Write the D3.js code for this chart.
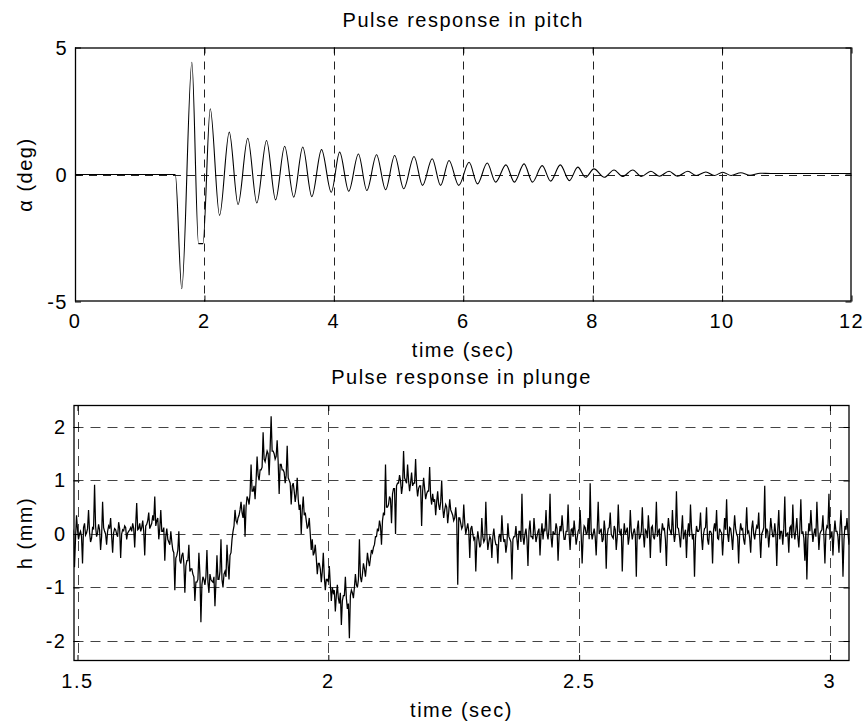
<!DOCTYPE html>
<html>
<head>
<meta charset="utf-8">
<script src="https://cdn.jsdelivr.net/npm/d3@7"></script>
<style>
  html, body { margin: 0; padding: 0; background: #fff; }
  svg { display: block; }
  text { font-family: "Liberation Sans", Arial, Helvetica, sans-serif; font-size: 20px; letter-spacing: 1.5px; fill: #000; }
</style>
</head>
<body>
<svg id="chart" width="867" height="725"></svg>
<script>
// ---------------- DATA ----------------
// Pitch response (peaks / troughs)
const pitchTime = [0, 1.55, 1.65, 1.806, 1.909, 1.977, 2.09, 2.234, 2.384, 2.52, 2.67, 2.81, 2.96, 3.10, 3.24, 3.38, 3.52, 3.66, 3.81, 3.96, 4.09, 4.23, 4.38, 4.51, 4.66, 4.80, 4.94, 5.08, 5.24, 5.37, 5.52, 5.65, 5.78, 5.93, 6.09, 6.22, 6.37, 6.50, 6.66, 6.79, 6.94, 7.07, 7.22, 7.35, 7.50, 7.64, 7.77, 7.89, 8.02, 8.18, 8.33, 8.46, 8.62, 8.75, 8.90, 9.03, 9.18, 9.31, 9.47, 9.60, 9.75, 9.88, 10.01, 10.14, 10.29, 10.43, 10.59, 10.75, 12];
const pitchDeg  = [0, 0, -4.5, 4.42, -2.72, -2.72, 2.59, -1.61, 1.67, -1.18, 1.43, -1.12, 1.34, -1.0, 1.11, -0.89, 1.08, -0.87, 0.98, -0.70, 0.88, -0.66, 0.81, -0.63, 0.78, -0.60, 0.75, -0.56, 0.71, -0.43, 0.62, -0.43, 0.55, -0.43, 0.48, -0.37, 0.45, -0.30, 0.38, -0.30, 0.42, -0.30, 0.35, -0.26, 0.38, -0.24, 0.29, -0.11, 0.22, -0.11, 0.18, -0.08, 0.18, -0.08, 0.13, -0.07, 0.13, -0.07, 0.13, -0.04, 0.10, -0.04, 0.09, -0.04, 0.07, -0.03, 0.05, 0.04, 0.04];

// Plunge response, sampled from t = 1.49 s every 0.002 s (mm); one row = 0.04 s
const plungeStart = 1.49;
const plungeStep = 0.002;
const plungeMm = [
  0.10, 0.05, -0.62, -0.10, 0.35, 0.08, -0.10, 0.00, 0.05, -0.05, -0.55, 0.12, 0.20, -0.02, 0.02, 0.10, 0.45, 0.03, -0.15, -0.08,
  0.12, 0.10, 0.92, 0.15, -0.05, 0.02, 0.18, 0.08, -0.30, -0.05, 0.60, 0.12, 0.05, 0.00, -0.20, 0.05, 0.15, 0.10, 0.30, -0.03,
  -0.35, 0.02, 0.10, 0.08, 0.00, -0.05, 0.22, 0.10, -0.45, 0.00, 0.08, 0.06, 0.15, 0.12, -0.10, 0.02, 0.05, 0.08, 0.12, 0.05,
  0.20, 0.10, -0.25, 0.18, 0.58, 0.08, 0.10, 0.20, 0.05, 0.12, 0.25, 0.05, -0.40, 0.15, 0.18, 0.25, 0.40, 0.10, 0.15, 0.20,
  0.35, 0.25, 0.70, 0.15, 0.25, 0.30, -0.10, 0.10, 0.45, 0.05, 0.05, 0.12, -0.50, -0.05, 0.10, -0.10, -0.15, -0.20, 0.05, -0.15,
  -0.30, -0.35, -1.05, -0.45, -0.40, -0.30, 0.05, -0.50, -0.55, -0.40, -0.35, -0.55, -1.10, -0.60, -0.50, -0.50, -0.20, -0.70, -0.65, -0.65,
  -0.75, -0.80, -1.25, -0.90, -0.90, -0.85, -0.35, -0.75, -1.65, -0.95, -0.80, -0.85, -0.95, -0.80, -0.30, -0.90, -1.10, -0.75, -0.85, -0.88,
  -0.90, -0.80, -1.35, -0.90, -0.40, -0.85, -0.85, -0.70, -0.10, -0.85, -1.00, -0.75, -0.70, -0.80, -0.20, -0.55, -0.85, -0.40, -0.35, -0.10,
  0.05, 0.15, 0.45, 0.25, 0.20, 0.30, 0.35, 0.45, 0.60, 0.40, 0.30, 0.55, -0.05, 0.50, 0.70, 0.65, 0.55, 0.75, 1.30, 0.80,
  0.80, 0.90, 0.65, 1.00, 1.45, 1.10, 1.00, 1.20, 1.20, 1.25, 1.90, 1.40, 1.35, 1.45, 1.55, 1.50, 1.10, 1.60, 2.20, 1.55,
  1.55, 1.50, 1.40, 1.45, 1.75, 1.35, 0.75, 1.30, 1.30, 1.20, 1.20, 1.15, 0.95, 1.10, 1.65, 1.05, 1.00, 0.95, 0.55, 0.90,
  0.95, 0.80, 0.60, 0.75, 1.05, 0.65, 0.45, 0.55, 0.00, 0.45, 0.70, 0.35, 0.40, 0.25, 0.10, 0.15, 0.30, 0.00, -0.30, -0.10,
  -0.40, -0.35, -0.20, -0.45, -0.75, -0.55, -0.55, -0.65, -0.90, -0.70, -0.35, -0.80, -1.05, -0.85, -0.85, -0.90, -0.60, -0.95, -1.25, -1.00,
  -1.10, -1.05, -1.45, -1.15, -0.95, -1.20, -1.30, -1.10, -1.70, -1.25, -1.15, -1.15, -0.80, -1.20, -1.40, -1.30, -1.95, -1.15, -1.05, -1.10,
  -1.20, -1.00, -0.75, -0.95, -1.00, -0.85, -0.10, -0.80, -0.90, -0.75, -0.55, -0.65, -0.80, -0.60, -0.35, -0.50, -0.60, -0.45, -0.30, -0.35,
  -0.25, -0.20, -0.05, -0.05, 0.10, 0.05, 0.25, 0.15, -0.20, 0.25, 0.40, 0.35, 1.30, 0.50, 0.50, 0.55, 0.70, 0.65, 0.20, 0.75,
  0.85, 0.85, 0.00, 0.90, 0.95, 0.95, 1.10, 1.00, 0.75, 0.90, 1.55, 1.05, 1.00, 0.95, 1.30, 1.00, 0.80, 0.95, 1.15, 0.90,
  0.95, 0.95, 1.40, 0.90, 0.70, 0.85, 0.90, 0.90, 0.15, 0.80, 1.05, 0.85, 0.65, 0.75, 0.80, 0.80, 1.25, 0.70, 0.55, 0.75,
  0.60, 0.65, 0.35, 0.60, 0.80, 0.55, 0.45, 0.60, 1.00, 0.50, 0.30, 0.45, 0.55, 0.50, 0.20, 0.40, 0.65, 0.45, 0.40, 0.35,
  0.25, 0.30, 0.50, 0.25, -0.95, 0.30, 0.30, 0.20, 0.10, 0.15, 0.55, 0.20, 0.00, 0.10, 0.20, 0.05, -0.45, 0.10, 0.15, 0.00,
  -0.10, -0.05, -0.70, -0.15, 0.05, -0.10, -0.25, -0.20, 0.30, -0.05, -0.15, -0.10, 0.60, 0.00, -0.30, -0.15, -0.05, -0.10, -0.45, -0.05,
  0.10, -0.10, -0.20, -0.20, -0.55, -0.05, 0.00, -0.15, 0.35, 0.00, -0.15, -0.10, -0.35, -0.20, 0.20, -0.05, -0.10, -0.15, -0.85, -0.10,
  -0.05, -0.05, 0.15, -0.10, -0.30, 0.05, 0.05, -0.15, 0.75, -0.05, -0.20, 0.00, 0.10, -0.10, -0.60, 0.05, 0.25, -0.05, -0.05, -0.10,
  0.30, 0.05, -0.15, -0.05, 0.05, 0.10, -0.40, 0.00, 0.20, -0.10, 0.10, 0.05, 0.45, 0.00, -0.10, 0.10, 0.75, -0.05, -0.25, 0.05,
  0.00, 0.00, 0.20, 0.10, -0.50, -0.05, 0.15, 0.05, 0.35, 0.10, -0.10, -0.10, 0.05, 0.05, 0.55, 0.00, -0.30, 0.08, 0.10, -0.05,
  0.25, 0.05, -0.20, -0.08, 0.05, 0.10, 0.45, 0.00, -0.55, -0.05, 0.15, 0.12, 0.00, 0.02, 0.30, -0.10, 0.95, 0.05, -0.10, 0.00,
  0.10, -0.05, -0.40, 0.08, 0.60, 0.00, 0.05, 0.10, -0.15, -0.10, 0.25, 0.05, -0.65, -0.02, 0.10, 0.12, 0.40, 0.00, -0.05, -0.08,
  0.15, 0.08, -0.30, -0.05, 0.55, 0.05, 0.00, 0.10, -0.70, -0.08, 0.20, 0.00, 0.05, 0.12, -0.20, -0.05, 0.45, 0.05, -0.10, 0.02,
  0.10, -0.02, -0.80, 0.10, 0.25, -0.10, -0.05, 0.05, 0.50, 0.00, -0.25, 0.08, 0.05, -0.08, 0.35, 0.05, -0.45, 0.12, 0.15, -0.05,
  -0.10, 0.05, 0.60, -0.05, 0.05, 0.10, -0.35, 0.00, 0.20, 0.08, 0.10, -0.10, -0.60, 0.05, 0.30, 0.10, 0.05, -0.02, 0.45, 0.05,
  -0.15, 0.00, 0.80, 0.12, 0.10, -0.05, -0.25, 0.05, 0.35, -0.10, 0.00, 0.08, -0.45, 0.02, 0.20, -0.05, 0.55, 0.10, -0.10, 0.00,
  -0.80, -0.08, 0.15, 0.05, 0.05, 0.10, 0.40, -0.05, -0.30, 0.00, 0.10, 0.12, 0.50, -0.10, -0.20, 0.05, 0.05, 0.00, -0.55, 0.08,
  0.20, 0.05, 0.45, -0.08, -0.10, 0.10, 0.05, 0.02, -0.40, -0.05, 0.30, 0.08, 0.65, 0.00, -0.15, 0.12, 0.10, -0.05, -0.30, 0.05,
  0.35, 0.10, 0.00, -0.05, -0.55, 0.00, 0.20, 0.08, 0.10, -0.10, -0.20, 0.05, 0.50, 0.02, 0.05, -0.08, -0.35, 0.10, 0.25, 0.00,
  -0.10, 0.05, 0.15, 0.10, 0.40, -0.05, -0.45, 0.00, 0.05, 0.12, 0.90, -0.08, 0.10, 0.05, -0.25, 0.00, 0.30, 0.10, -0.05, -0.05,
  0.20, 0.00, -0.60, 0.08, 0.45, -0.10, 0.05, 0.05, -0.20, 0.10, 0.70, -0.05, 0.00, 0.02, -0.35, 0.12, 0.15, -0.08, 0.55, 0.05,
  -0.10, 0.08, 0.30, -0.05, -0.25, 0.10, 0.65, 0.00, 0.05, -0.08, -0.50, 0.05, -0.85, -0.10, 0.20, 0.05, 0.45, 0.10, -0.15, 0.00,
  0.10, -0.05, 0.60, 0.10, -0.30, 0.00, 0.05, 0.08, 0.35, -0.05, -0.55, 0.05, 0.15, 0.12, 0.75, -0.08, -0.05, 0.05, -0.40, 0.00,
  0.25, 0.05, 0.05, -0.05, -0.35, 0.10, 0.45, 0.00, -0.80, -0.10, 0.15, 0.08, 0.30, 0.02, -0.20, -0.05, 0.40, 0.10, -0.55, 0.00
];

// Ticks and labels
const pitchXTicks = [0, 2, 4, 6, 8, 10, 12];
const pitchYTicks = [-5, 0, 5];
const plungeXTicks = [1.5, 2, 2.5, 3];
const plungeYTicks = [-2, -1, 0, 1, 2];
const titles = ["Pulse response in pitch", "Pulse response in plunge"];
const xLabel = "time (sec)";
const yLabels = ["\u03b1 (deg)", "h (mm)"];

// ---------------- DRAWING ----------------
const svg = d3.select("#chart");

function panel(opts) {
  const { left, right, top, bottom, xDomain, yDomain, xTicks, yTicks, dash, gridColor, title, ylab, id } = opts;
  const x = d3.scaleLinear().domain(xDomain).range([left, right]);
  const y = d3.scaleLinear().domain(yDomain).range([bottom, top]);
  const g = svg.append("g");

  g.append("clipPath").attr("id", id).append("rect")
    .attr("x", left).attr("y", top).attr("width", right - left).attr("height", bottom - top);

  // grid (skip lines that fall on the frame)
  const gx = xTicks.filter(d => x(d) > left + 2 && x(d) < right - 2);
  const gy = yTicks.filter(d => y(d) > top + 2 && y(d) < bottom - 2);
  g.append("g").selectAll("line").data(gx).join("line")
    .attr("x1", d => Math.round(x(d)) + 0.5).attr("x2", d => Math.round(x(d)) + 0.5)
    .attr("y1", top).attr("y2", bottom)
    .attr("stroke", gridColor).attr("stroke-width", 1).attr("stroke-dasharray", dash);
  g.append("g").selectAll("line").data(gy).join("line")
    .attr("y1", d => Math.round(y(d)) + 0.5).attr("y2", d => Math.round(y(d)) + 0.5)
    .attr("x1", left).attr("x2", right)
    .attr("stroke", gridColor).attr("stroke-width", 1).attr("stroke-dasharray", dash);

  // ticks (inside, all four sides)
  const tl = 6;
  const axB = d3.axisBottom(x).tickValues(xTicks).tickSize(-tl).tickSizeOuter(0).tickFormat("");
  const axT = d3.axisTop(x).tickValues(xTicks).tickSize(-tl).tickSizeOuter(0).tickFormat("");
  const axL = d3.axisLeft(y).tickValues(yTicks).tickSize(-tl).tickSizeOuter(0).tickFormat("");
  const axR = d3.axisRight(y).tickValues(yTicks).tickSize(-tl).tickSizeOuter(0).tickFormat("");
  [[axB, `translate(0,${bottom})`], [axT, `translate(0,${top})`], [axL, `translate(${left},0)`], [axR, `translate(${right},0)`]]
    .forEach(([ax, tr]) => {
      const a = g.append("g").attr("transform", tr).call(ax);
      a.select(".domain").remove();
      a.selectAll("line").attr("stroke", "#000");
    });

  // tick labels
  g.append("g").selectAll("text").data(xTicks).join("text")
    .attr("x", d => x(d)).attr("y", bottom + 26.5)
    .attr("text-anchor", "middle").text(d => String(d));
  g.append("g").selectAll("text").data(yTicks).join("text")
    .attr("x", left - 7).attr("y", d => y(d) + 7)
    .attr("text-anchor", "end").text(d => String(d));

  // titles
  const cx = (left + right) / 2;
  g.append("text").attr("x", cx).attr("y", top - 21).attr("text-anchor", "middle").text(title);
  g.append("text").attr("x", cx).attr("y", bottom + 55.5).attr("text-anchor", "middle").text(xLabel);
  g.append("text").attr("transform", `translate(32,${(top + bottom) / 2}) rotate(-90)`)
    .attr("text-anchor", "middle").text(ylab);

  return { x, y, g, id, left, right, top, bottom };
}

function frame(p) {
  p.g.append("rect").attr("x", p.left + 0.5).attr("y", p.top + 0.5)
    .attr("width", p.right - p.left - 1).attr("height", p.bottom - p.top - 1)
    .attr("fill", "none").attr("stroke", "#000").attr("stroke-width", 1.3);
}

// Top panel: pitch
const p1 = panel({
  left: 75, right: 851.5, top: 47.5, bottom: 301.5,
  xDomain: [0, 12], yDomain: [-5, 5],
  xTicks: pitchXTicks, yTicks: pitchYTicks,
  dash: "8,6", gridColor: "#222",
  title: titles[0], ylab: yLabels[0], id: "clip1"
});
const pitchData = pitchTime.map((t, i) => [t, pitchDeg[i]]);
p1.g.append("path").datum(pitchData)
  .attr("clip-path", "url(#clip1)")
  .attr("fill", "none").attr("stroke", "#000").attr("stroke-width", 1.1)
  .attr("d", d3.line().x(d => p1.x(d[0])).y(d => p1.y(d[1])).curve(d3.curveMonotoneX));
frame(p1);

// Bottom panel: plunge
const p2 = panel({
  left: 73.5, right: 849.5, top: 405, bottom: 661,
  xDomain: [1.492, 3.039], yDomain: [-2.374, 2.411],
  xTicks: plungeXTicks, yTicks: plungeYTicks,
  dash: "10,7", gridColor: "#444",
  title: titles[1], ylab: yLabels[1], id: "clip2"
});
const plungeData = plungeMm.map((v, i) => [plungeStart + i * plungeStep, v]);
p2.g.append("path").datum(plungeData)
  .attr("clip-path", "url(#clip2)")
  .attr("fill", "none").attr("stroke", "#000").attr("stroke-width", 1.25)
  .attr("d", d3.line().x(d => p2.x(d[0])).y(d => p2.y(d[1])));
frame(p2);
</script>
</body>
</html>
